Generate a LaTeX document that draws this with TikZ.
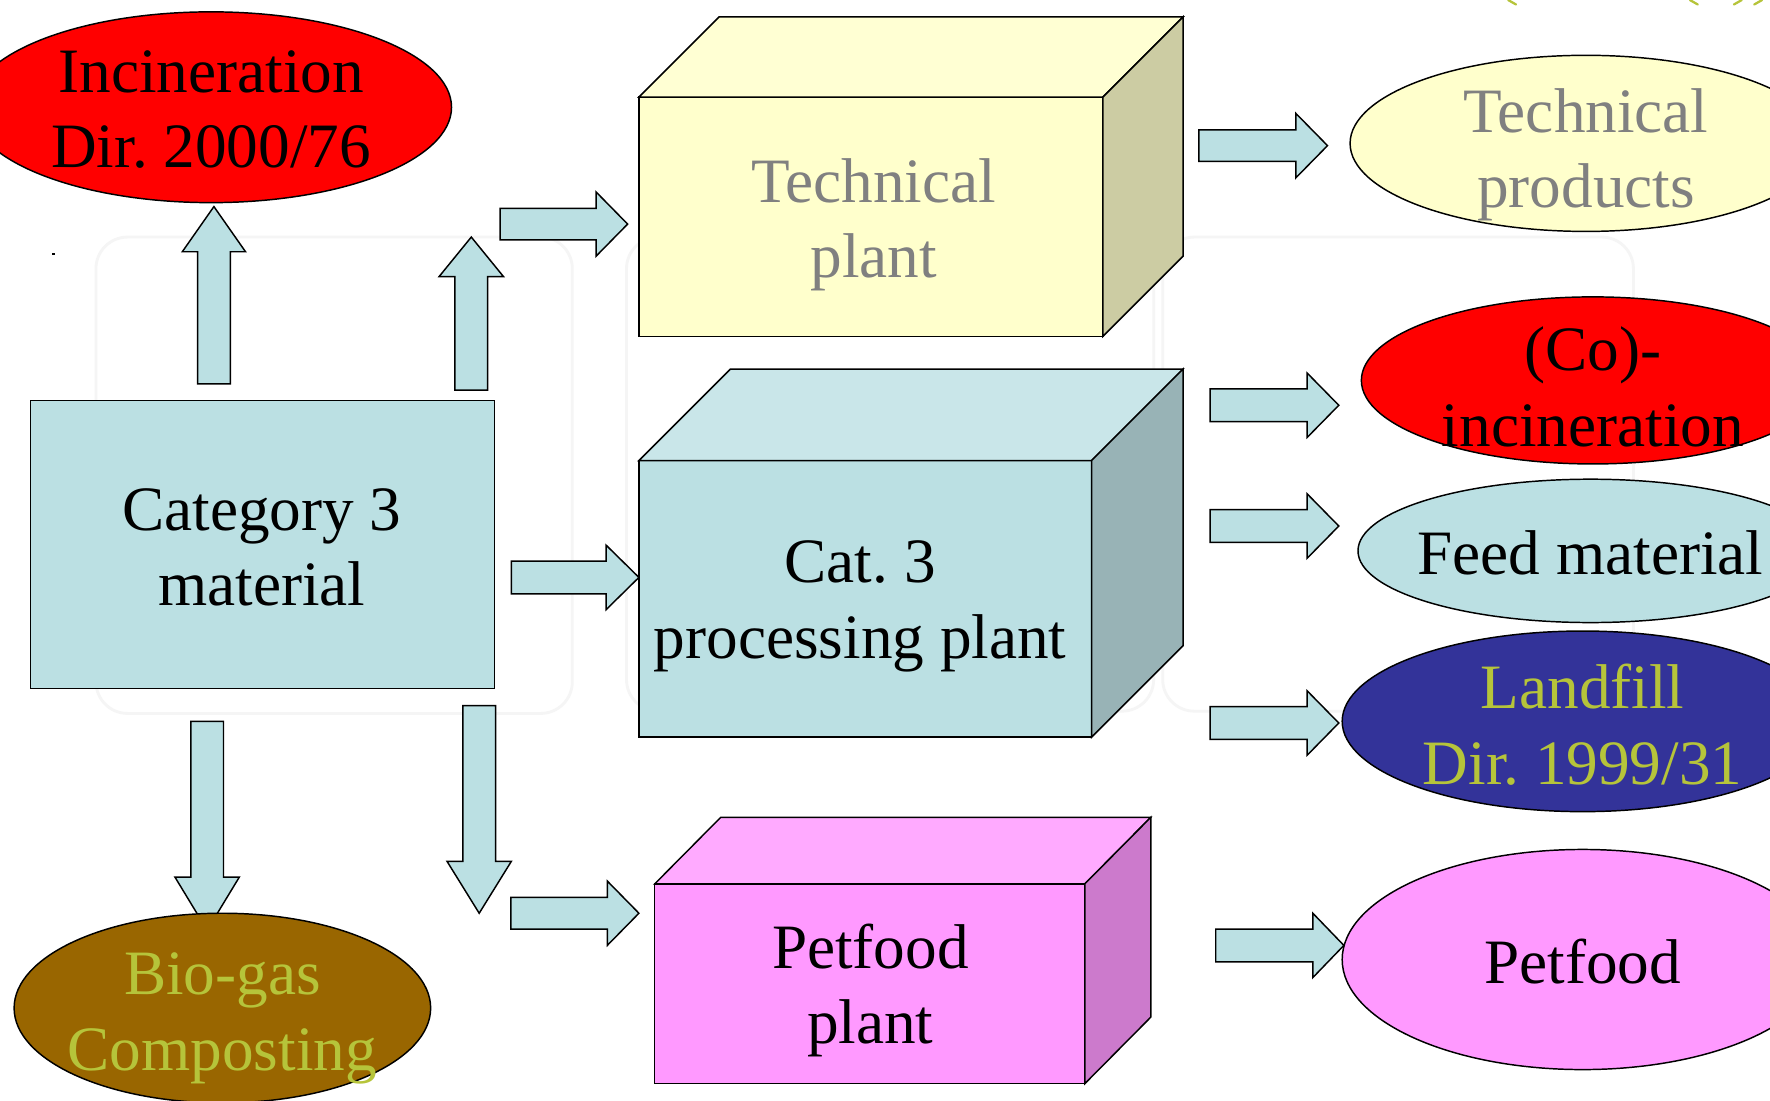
\documentclass[tikz,border=0pt]{standalone}
\usepackage{fontspec}
\setmainfont{Liberation Serif}
\usetikzlibrary{shapes.geometric,calc}
\frenchspacing
\definecolor{lblue}{HTML}{BBE0E3}
\definecolor{lbluetop}{HTML}{C9E6E9}
\definecolor{lblueside}{HTML}{98B3B6}
\definecolor{cream}{HTML}{FFFFCC}
\definecolor{creamtop}{HTML}{FFFFD3}
\definecolor{creamside}{HTML}{CCCCA3}
\definecolor{pink}{HTML}{FF99FF}
\definecolor{pinktop}{HTML}{FFAAFF}
\definecolor{pinkside}{HTML}{CC7ACC}
\definecolor{fire}{HTML}{FF0000}
\definecolor{navy}{HTML}{333399}
\definecolor{brown}{HTML}{996600}
\definecolor{lime}{HTML}{B6C43A}
\definecolor{greytext}{HTML}{808080}
\newcommand\blockarrow[5]{%
  \coordinate (#1h) at ($(#2)!#5!(#1)$);
  \draw[barrow] ($(#1)!#3!90:(#2)$) -- ($(#1h)!#3!90:(#2)$) -- ($(#1h)!#4!90:(#2)$) -- (#2)
    -- ($(#1h)!#4!-90:(#2)$) -- ($(#1h)!#3!-90:(#2)$) -- ($(#1)!#3!-90:(#2)$) -- cycle;}
\begin{document}
\frenchspacing
\begin{tikzpicture}[x=1pt,y=-1pt,
  outl/.style={draw=black,line width=1.3pt,line join=miter},
  barrow/.style={outl,fill=lblue},
  txt/.style={align=center,inner sep=0pt,font=\fontsize{56}{67}\selectfont\frenchspacing},
  oval/.style={outl,ellipse,inner sep=0pt,outer sep=0pt},
  face/.style={outl,rectangle,inner sep=0pt,outer sep=0pt,anchor=north west},
  wm/.style={draw=black!4,line width=2.5pt,rounded corners=28pt},
  logo/.style={draw=lime,line width=2pt,line cap=round}]
\fill[white] (0,0) rectangle (1568,975);
\useasboundingbox (0,0) rectangle (1568,975);
\clip (0,0) rectangle (1568,975);

% faint watermark frames
\draw[wm] (85,210) rectangle (507,632);
\draw[wm] (555,210) rectangle (1022,630);
\draw[wm] (1030,210) rectangle (1447,630);
\fill[black] (46.5,224) rectangle (48.5,226);
\draw[logo] (1336,0) -- (1343,4);
\draw[logo] (1497,0) -- (1504,4);
\draw[logo] (1543,0) -- (1536,4);
\draw[logo] (1561,0) -- (1554,4);

% arrows
\coordinate (u1s) at (189.5,340); \coordinate (u1t) at (189.5,183);
\coordinate (u2s) at (417.5,345.5); \coordinate (u2t) at (417.5,210);
\coordinate (r1s) at (443,198.5); \coordinate (r1t) at (556,198.5);
\coordinate (r2s) at (453,511.5); \coordinate (r2t) at (566,511.5);
\coordinate (d1s) at (183.5,639); \coordinate (d1t) at (183.5,824);
\coordinate (d2s) at (424.5,625); \coordinate (d2t) at (424.5,809);
\coordinate (r3s) at (452.5,809); \coordinate (r3t) at (566,809);
\coordinate (o1s) at (1062,129); \coordinate (o1t) at (1176,129);
\coordinate (o2s) at (1072,359); \coordinate (o2t) at (1186,359);
\coordinate (o3s) at (1072,466); \coordinate (o3t) at (1186,466);
\coordinate (o4s) at (1072,640.5); \coordinate (o4t) at (1186,640.5);
\coordinate (o5s) at (1077,837.5); \coordinate (o5t) at (1190.5,837.5);
\blockarrow{u1s}{u1t}{14.5pt}{28pt}{40pt}
\blockarrow{u2s}{u2t}{14.5pt}{28.5pt}{35pt}
\blockarrow{r1s}{r1t}{14pt}{28.5pt}{28pt}
\blockarrow{r2s}{r2t}{14.5pt}{28.5pt}{29pt}
\blockarrow{d1s}{d1t}{14.5pt}{28.5pt}{47pt}
\blockarrow{d2s}{d2t}{14.5pt}{28.5pt}{46pt}
\blockarrow{r3s}{r3t}{14pt}{28.5pt}{28pt}
\blockarrow{o1s}{o1t}{14pt}{28.5pt}{28pt}
\blockarrow{o2s}{o2t}{14.5pt}{28.5pt}{28pt}
\blockarrow{o3s}{o3t}{14.5pt}{28.5pt}{28pt}
\blockarrow{o4s}{o4t}{14.5pt}{28.5pt}{28pt}
\blockarrow{o5s}{o5t}{14.5pt}{28.5pt}{27.5pt}

% Category 3 material
\node[face,fill=lblue,minimum width=411pt,minimum height=255pt] (cat) at (27,355) {};
\node[txt] (catt) at (232,485) {Category 3\\material};

% Technical plant cuboid
\node[face,fill=cream,minimum width=411pt,minimum height=212pt] (tp) at (566,86) {};
\draw[outl,fill=creamtop] (tp.north west) -- ++(71,-71) -- ++(411,0) -- (tp.north east) -- cycle;
\draw[outl,fill=creamside] (tp.north east) -- ++(71,-71) -- ++(0,212) -- (tp.south east) -- cycle;
\node[txt,text=greytext] (tpt) at (774,199) {Technical\\plant};

% Processing plant cuboid
\node[face,fill=lblue,minimum width=401pt,minimum height=245pt] (pr) at (566,408) {};
\draw[outl,fill=lbluetop] (pr.north west) -- ++(81,-81) -- ++(401,0) -- (pr.north east) -- cycle;
\draw[outl,fill=lblueside] (pr.north east) -- ++(81,-81) -- ++(0,245) -- (pr.south east) -- cycle;
\node[txt] (prt) at (762,537) {Cat. 3\\processing plant};

% Petfood plant cuboid
\node[face,fill=pink,minimum width=381pt,minimum height=177pt] (pp) at (580,783) {};
\draw[outl,fill=pinktop] (pp.north west) -- ++(58.5,-59) -- ++(381,0) -- (pp.north east) -- cycle;
\draw[outl,fill=pinkside] (pp.north east) -- ++(58.5,-59) -- ++(0,177) -- (pp.south east) -- cycle;
\node[txt] (ppt) at (771,877.5) {Petfood\\plant};

% ellipses
\node[oval,fill=fire,minimum width=426pt,minimum height=169pt] (inc) at (187,95) {};
\node[txt] (inct) at (187,97) {Incineration\\Dir. 2000/76};
\node[oval,fill=cream,minimum width=418pt,minimum height=156pt] (tpr) at (1405,127) {};
\node[txt,text=greytext] (tprt) at (1405,137) {Technical\\products};
\node[oval,fill=fire,minimum width=410pt,minimum height=148pt] (coi) at (1411,337) {};
\node[txt] (coit) at (1411,342.5) {(Co)-\\incineration};
\node[oval,fill=lblue,minimum width=412pt,minimum height=127pt] (feed) at (1409,488) {};
\node[txt] (feedt) at (1409,490) {Feed material};
\node[oval,fill=navy,minimum width=426pt,minimum height=160pt] (land) at (1402,639) {};
\node[txt,text=lime] (landt) at (1402,642) {Landfill\\Dir. 1999/31};
\node[oval,fill=brown,minimum width=369pt,minimum height=168pt] (bio) at (197,893) {};
\node[txt,text=lime] (biot) at (197,902) {Bio-gas\\Composting};
\node[oval,fill=pink,minimum width=426pt,minimum height=195pt] (pet) at (1402,850) {};
\node[txt] (pett) at (1402,852) {Petfood};
\end{tikzpicture}
\end{document}
